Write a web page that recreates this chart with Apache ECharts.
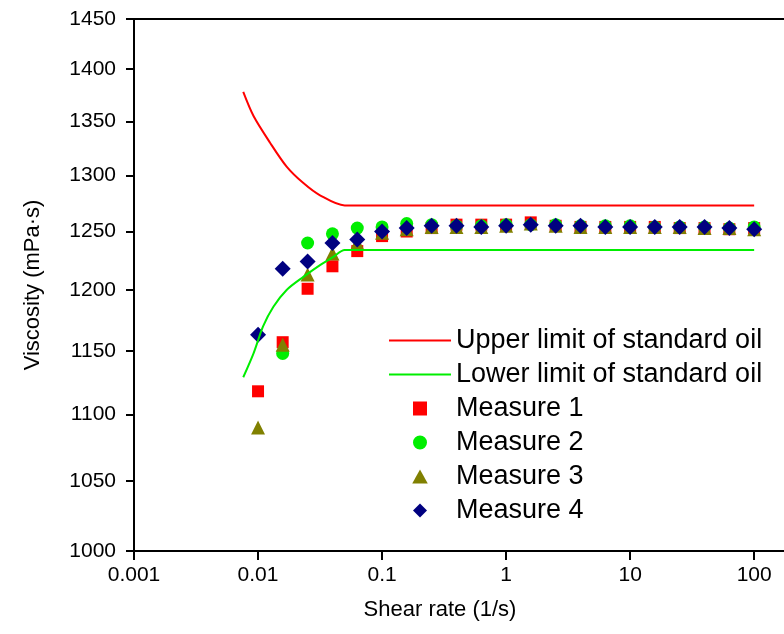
<!DOCTYPE html>
<html>
<head>
<meta charset="utf-8">
<script src="https://cdn.jsdelivr.net/npm/echarts@6/dist/echarts.min.js"></script>
<style>
  html, body { margin: 0; padding: 0; background: #fff; }
  #chart { width: 784px; height: 634px; }
</style>
</head>
<body>
<div id="chart"></div>
<script>
// 剪切速率（测量点）
var shearRates = [0.01, 0.0158, 0.0251, 0.0398, 0.0631, 0.1, 0.158, 0.251, 0.398, 0.631,
  1, 1.58, 2.51, 3.98, 6.31, 10, 15.8, 25.1, 39.8, 63.1, 100];

// 四次测量的粘度
var measure1 = [1118, 1157, 1201, 1220, 1233, 1246, 1250, 1253, 1256, 1256, 1256, 1258, 1255, 1254, 1254, 1254, 1254, 1253, 1253, 1252, 1253];
var measure2 = [null, 1148, 1240, 1248, 1253, 1254, 1257, 1256, 1255, 1255, 1256, 1256, 1256, 1255, 1255, 1255, 1254, 1254, 1254, 1253, 1254];
var measure3 = [1090, 1155, 1213, 1231, 1240, 1249, 1252, 1254, 1254, 1254, 1255, 1257, 1255, 1254, 1254, 1254, 1254, 1254, 1253, 1253, 1252];
var measure4 = [1163, 1218, 1224, 1240, 1243, 1250, 1253, 1255, 1255, 1254, 1255, 1256, 1255, 1255, 1254, 1254, 1254, 1254, 1254, 1253, 1252];

// 标准油上下限
var upperX = [0.0076, 0.0092, 0.0125, 0.017, 0.0232, 0.0316, 0.05, 100];
var upperY = [1378, 1355, 1330, 1308, 1293, 1282, 1273, 1273];
var lowerX = [0.0076, 0.0092, 0.011, 0.0133, 0.017, 0.0232, 0.0316, 0.0405, 0.05, 100];
var lowerY = [1129, 1148, 1170, 1186, 1200, 1211, 1221, 1228, 1234, 1234];

// 刻度
var xTicks = [0.001, 0.01, 0.1, 1, 10, 100];
var yTicks = [1000, 1050, 1100, 1150, 1200, 1250, 1300, 1350, 1400, 1450];

function pairs(xs, ys) {
  var out = [];
  for (var i = 0; i < xs.length; i++) {
    if (ys[i] != null) out.push([xs[i], ys[i]]);
  }
  return out;
}

var chart = echarts.init(document.getElementById('chart'));
var font = 'Arial, "Liberation Sans", sans-serif';

// 图例图标
var lineIcon = 'path://M0,0H62V2H0Z';
var legendData = [
  { name: 'Upper limit of standard oil', icon: lineIcon },
  { name: 'Lower limit of standard oil', icon: lineIcon },
  { name: 'Measure 1', icon: 'path://M0,0H10V10H0Z' },
  { name: 'Measure 2', icon: 'path://M5,0A5,5,0,1,1,4.99,0Z' },
  { name: 'Measure 3', icon: 'path://M5,0L10,9L0,9Z' },
  { name: 'Measure 4', icon: 'path://M5,0L10,5L5,10L0,5Z' }
];

var option = {
  animation: false,
  backgroundColor: '#fff',
  textStyle: { fontFamily: font },
  grid: { left: 134, right: 0, top: 19, bottom: 83 },
  legend: {
    orient: 'vertical',
    left: 384,
    top: 322,
    itemWidth: 62,
    itemHeight: 14,
    itemGap: 7,
    symbolKeepAspect: true,
    textStyle: { fontSize: 27, color: '#000', fontFamily: font },
    data: legendData
  },
  xAxis: [{
    type: 'log',
    logBase: 10,
    min: 0.001,
    max: 174,
    name: 'Shear rate (1/s)',
    nameLocation: 'middle',
    nameGap: 48,
    nameTextStyle: { fontSize: 22, color: '#000', padding: [0, 38, 0, 0] },
    axisLine: { lineStyle: { color: '#000', width: 2 } },
    axisTick: { length: 9, lineStyle: { color: '#000', width: 2 }, customValues: xTicks },
    axisLabel: { fontSize: 21, color: '#000', margin: 14, customValues: xTicks,
      formatter: function (v) { return String(+v.toPrecision(3)); } },
    splitLine: { show: false },
    minorTick: { show: false }
  }, {
    type: 'log',
    position: 'top',
    min: 0.001,
    max: 174,
    axisLine: { lineStyle: { color: '#000', width: 2 } },
    axisTick: { show: false },
    axisLabel: { show: false },
    splitLine: { show: false }
  }],
  yAxis: {
    type: 'log',
    logBase: 10,
    min: 1000,
    max: 1450,
    name: 'Viscosity (mPa·s)',
    nameLocation: 'middle',
    nameGap: 90,
    nameTextStyle: { fontSize: 22, color: '#000' },
    axisLine: { lineStyle: { color: '#000', width: 2 } },
    axisTick: { length: 8, lineStyle: { color: '#000', width: 2 }, customValues: yTicks },
    axisLabel: { fontSize: 21, color: '#000', margin: 18, customValues: yTicks,
      formatter: function (v) { return String(Math.round(v)); } },
    splitLine: { show: false }
  },
  series: [
    {
      name: 'Upper limit of standard oil', type: 'line', symbol: 'none', smooth: 0.3,
      data: pairs(upperX, upperY),
      lineStyle: { color: '#ff0000', width: 2 }, itemStyle: { color: '#ff0000' }
    },
    {
      name: 'Lower limit of standard oil', type: 'line', symbol: 'none', smooth: 0.3,
      data: pairs(lowerX, lowerY),
      lineStyle: { color: '#00ee00', width: 2 }, itemStyle: { color: '#00ee00' }
    },
    {
      name: 'Measure 1', type: 'scatter', symbol: 'rect', symbolSize: 12,
      data: pairs(shearRates, measure1), itemStyle: { color: '#ff0000', opacity: 1 }
    },
    {
      name: 'Measure 2', type: 'scatter', symbol: 'circle', symbolSize: 13,
      data: pairs(shearRates, measure2), itemStyle: { color: '#00ee00', opacity: 1 }
    },
    {
      name: 'Measure 3', type: 'scatter', symbol: 'triangle', symbolSize: 14,
      data: pairs(shearRates, measure3), itemStyle: { color: '#808000', opacity: 1 }
    },
    {
      name: 'Measure 4', type: 'scatter', symbol: 'diamond', symbolSize: 16,
      data: pairs(shearRates, measure4), itemStyle: { color: '#000080', opacity: 1 }
    }
  ]
};

chart.setOption(option);
</script>
</body>
</html>
